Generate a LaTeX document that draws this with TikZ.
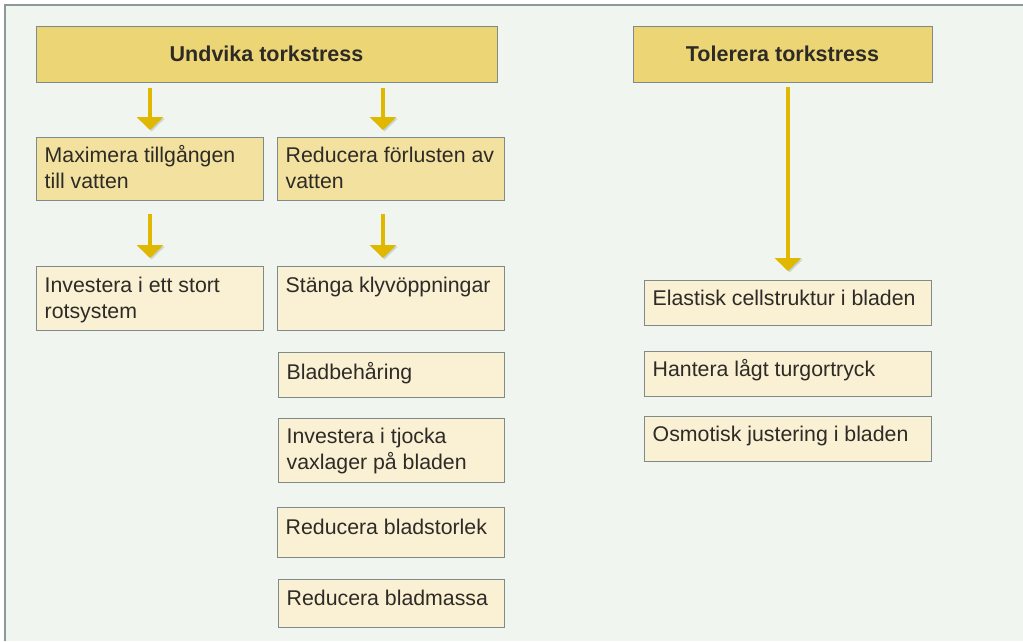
\documentclass[tikz,border=0pt]{standalone}
\usepackage{fontspec}
\setmainfont{Liberation Sans}
\usetikzlibrary{arrows.meta}
\definecolor{bgc}{HTML}{F1F5EF}
\definecolor{framec}{HTML}{8E9898}
\definecolor{bordc}{HTML}{7F8B8B}
\definecolor{headc}{HTML}{ECD574}
\definecolor{midc}{HTML}{F3E29F}
\definecolor{lightc}{HTML}{FAF0D3}
\definecolor{arrc}{HTML}{E1B800}
\definecolor{shadc}{HTML}{B9CACA}
\definecolor{txtc}{HTML}{2E2B27}
\tikzset{
  bx/.style={draw=bordc, line width=0.9pt, inner sep=0pt, anchor=north west, rectangle},
  headbox/.style={bx, fill=headc, font=\fontsize{21.5}{26}\selectfont\bfseries, text=txtc, anchor=center},
  midbox/.style={bx, fill=midc},
  lightbox/.style={bx, fill=lightc},
  txt/.style={anchor=base west, inner sep=0pt, align=left, text=txtc, font=\fontsize{21.3}{26}\selectfont},
  arr/.style={draw=arrc, line width=4pt, -{Triangle[width=26pt,length=13pt]},
    preaction={draw=shadc, opacity=0.7, transform canvas={xshift=1.5pt,yshift=-1.5pt}}}
}
\begin{document}
\begin{tikzpicture}[x=1pt,y=-1pt]
\useasboundingbox (0,0) rectangle (1023,641);
\fill[bgc] (5,5) rectangle (1023,641);
\draw[framec, line width=1.2pt] (5,641) -- (5,5) -- (1023,5);

% headers
\node[headbox, minimum width=461pt, minimum height=56pt] (undv) at (266.5,54) {Undvika torkstress};
\node[headbox, minimum width=299pt, minimum height=56pt] (tol) at (782.5,54) {Tolerera torkstress};

% left column (two-line texts: anchor is on the baseline of the last line)
\node[midbox, minimum width=227pt, minimum height=63pt] (max) at (36,137) {};
\node[txt] (max-t) at ([xshift=8.5pt,yshift=-51pt]max.north west) {Maximera tillgången\\till vatten};
\node[lightbox, minimum width=227pt, minimum height=64pt] (inv) at (36,266) {};
\node[txt] (inv-t) at ([xshift=8.5pt,yshift=-52pt]inv.north west) {Investera i ett stort\\rotsystem};

% middle column
\node[midbox, minimum width=227pt, minimum height=63pt] (red) at (277,137) {};
\node[txt] (red-t) at ([xshift=8.5pt,yshift=-51pt]red.north west) {Reducera förlusten av\\vatten};
\node[lightbox, minimum width=227pt, minimum height=64pt] (sta) at (277,266) {};
\node[txt] (sta-t) at ([xshift=8.5pt,yshift=-26.5pt]sta.north west) {Stänga klyvöppningar};
\node[lightbox, minimum width=226pt, minimum height=44.5pt] (bla) at (278,352) {};
\node[txt] (bla-t) at ([xshift=8.5pt,yshift=-27pt]bla.north west) {Bladbehåring};
\node[lightbox, minimum width=226pt, minimum height=64pt] (tjo) at (278,418) {};
\node[txt] (tjo-t) at ([xshift=8.5pt,yshift=-51pt]tjo.north west) {Investera i tjocka\\vaxlager på bladen};
\node[lightbox, minimum width=227pt, minimum height=50pt] (bst) at (277,507) {};
\node[txt] (bst-t) at ([xshift=8.5pt,yshift=-27pt]bst.north west) {Reducera bladstorlek};
\node[lightbox, minimum width=226pt, minimum height=48pt] (bma) at (278,578.5) {};
\node[txt] (bma-t) at ([xshift=8.5pt,yshift=-26.5pt]bma.north west) {Reducera bladmassa};

% right column
\node[lightbox, minimum width=287pt, minimum height=45pt] (ela) at (644,280) {};
\node[txt] (ela-t) at ([xshift=8.5pt,yshift=-25.5pt]ela.north west) {Elastisk cellstruktur i bladen};
\node[lightbox, minimum width=287pt, minimum height=45pt] (han) at (644,351) {};
\node[txt] (han-t) at ([xshift=8.5pt,yshift=-25.5pt]han.north west) {Hantera lågt turgortryck};
\node[lightbox, minimum width=287pt, minimum height=45pt] (osm) at (644,416) {};
\node[txt] (osm-t) at ([xshift=8.5pt,yshift=-25.5pt]osm.north west) {Osmotisk justering i bladen};

% arrows
\draw[arr, shorten <=6pt, shorten >=7pt] (undv.south -| 150,0) -- (max.north -| 150,0);
\draw[arr, shorten <=6pt, shorten >=7pt] (undv.south -| 383,0) -- (red.north -| 383,0);
\draw[arr, shorten <=13pt, shorten >=8pt] (max.south -| 150,0) -- (inv.north -| 150,0);
\draw[arr, shorten <=13pt, shorten >=8pt] (red.south -| 383,0) -- (sta.north -| 383,0);
\draw[arr, shorten <=5pt, shorten >=9pt] (tol.south -| 788,0) -- (ela.north -| 788,0);
\end{tikzpicture}
\end{document}
